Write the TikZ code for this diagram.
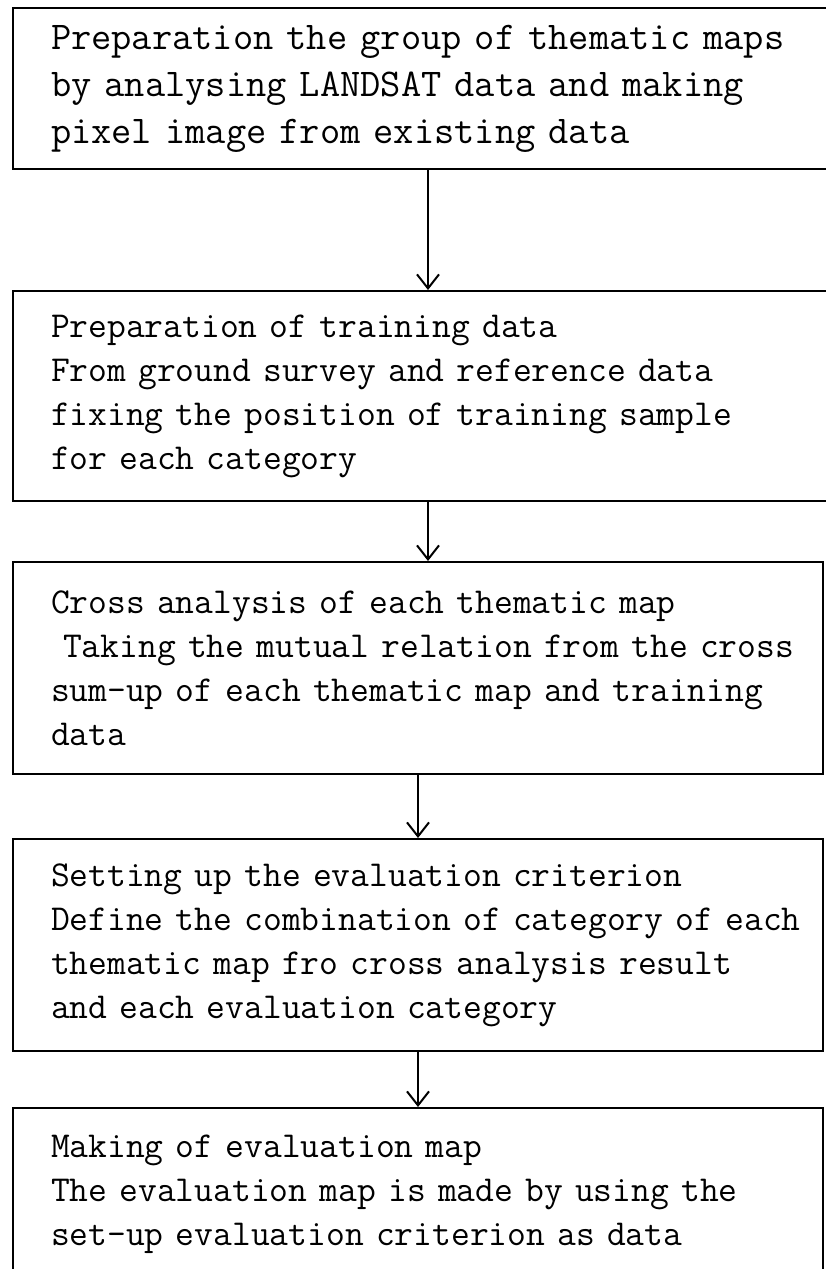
\documentclass[tikz,border=0pt]{standalone}
\usepackage{fontspec}
\usetikzlibrary{positioning, arrows.meta}
\tikzset{x=1pt, y=1pt,
stagebox/.style={ % one step of the procedure
draw, line width=2pt,
anchor=north west,
minimum width=810pt, minimum height=212pt,
text width=734pt, inner xsep=38pt,
align=left,
font=\fontsize{36.5}{44}\selectfont\ttfamily,
execute at begin node={\rightskip=0pt minus 60pt}}, % long lines may run into the right margin
widebox/.style={ % the two upper boxes run past the right edge
text width=754pt, minimum width=830pt},
flow/.style={ % arrows from one step to the next
draw, line width=2pt,
-{Straight Barb[length=14pt, width=22pt, line width=2pt]}}}

\begin{document}
\begin{tikzpicture}

    \path[clip, use as bounding box] (0,0) rectangle (826,-1269);

    \node[stagebox, widebox, minimum height=161pt, font=\fontsize{39.3}{47}\selectfont\ttfamily] (prep) at (12,-7)
        {Preparation the group of thematic maps\\by analysing LANDSAT data and making\\pixel image from existing data};
    \node[stagebox, widebox, minimum height=210pt, below=120pt of prep.south west, anchor=north west] (train)
        {Preparation of training data\\From ground survey and reference data\\fixing the position of training sample\\for each category};
    \node[stagebox, below=59pt of train.south west, anchor=north west] (cross)
        {Cross analysis of each thematic map\\~Taking the mutual relation from the cross\\sum-up of each thematic map and training\\data};
    \node[stagebox, below=63pt of cross.south west, anchor=north west] (crit)
        {Setting up the evaluation criterion\\Define the combination of category of each\\thematic map fro cross analysis result\\and each evaluation category};
    \node[stagebox, minimum height=172pt, below=55pt of crit.south west, anchor=north west] (evalmap)
        {Making of evaluation map\\The evaluation map is made by using the\\set-up evaluation criterion as data};

    \draw[flow] (prep.south) -- (prep.south |- train.north);
    \draw[flow] (train.south) -- (train.south |- cross.north);
    \draw[flow] (cross.south) -- (cross.south |- crit.north);
    \draw[flow] (crit.south) -- (crit.south |- evalmap.north);

\end{tikzpicture}
\end{document}
